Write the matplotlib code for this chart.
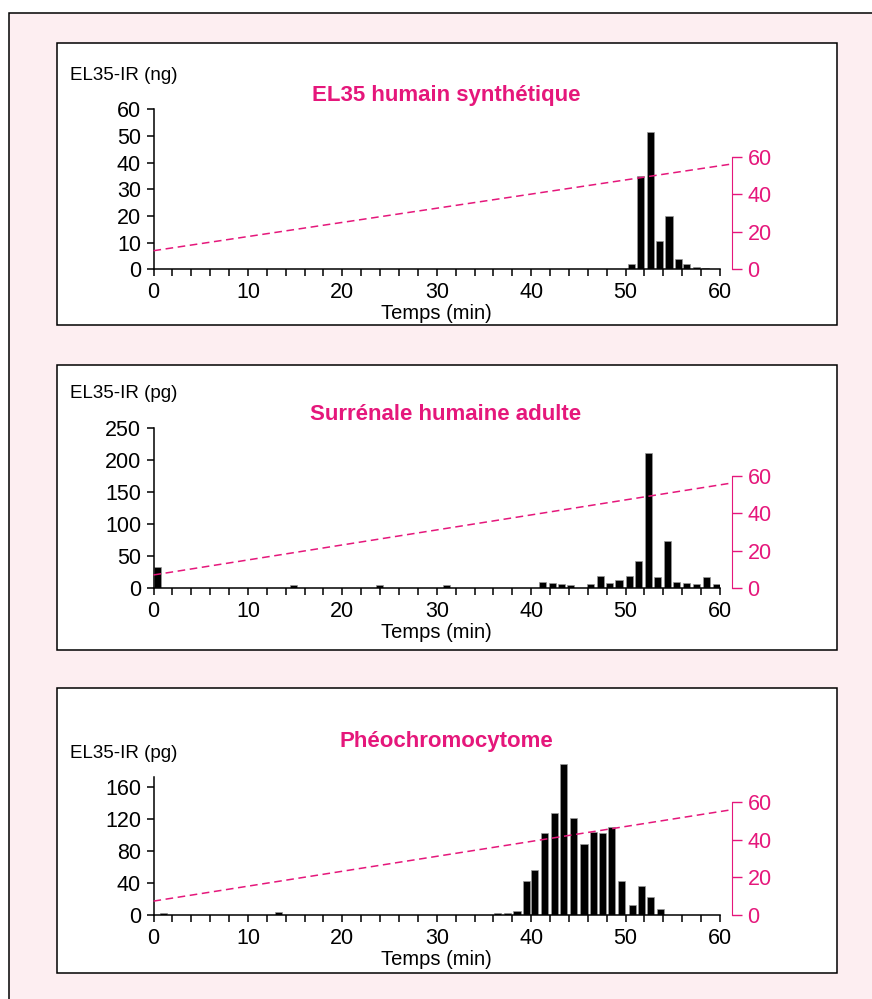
"""
EL35 immunoreactivity HPLC profiles, three panels.
"""

import matplotlib
matplotlib.use("Agg")
import matplotlib.pyplot as plt
from matplotlib.patches import Rectangle

plt.rcParams['font.family'] = ['Liberation Sans', 'DejaVu Sans']

# data
titles = ["EL35 humain synthétique", "Surrénale humaine adulte", "Phéochromocytome"]
ylabels = ["EL35-IR (ng)", "EL35-IR (pg)", "EL35-IR (pg)"]

x1 = [50.6, 51.6, 52.6, 53.6, 54.6, 55.6, 56.5, 57.5, 58.5]
y1 = [2, 35, 51.5, 10.5, 20, 4, 2, 1, 0.5]

x2 = [0.45, 14.8, 23.9, 31.0, 41.2, 42.3, 43.2, 44.2, 46.3, 47.3, 48.3, 49.3,
      50.4, 51.4, 52.4, 53.4, 54.4, 55.4, 56.5, 57.5, 58.6, 59.6]
y2 = [33, 5, 5, 5, 9.4, 7.8, 6.8, 5.2, 6.8, 20, 7.8, 13.5,
      20, 43, 211, 18, 74.5, 9.4, 7.8, 6.8, 18, 6.8]

x3 = [1.05, 13.2, 36.4, 37.5, 38.5, 39.5, 40.4, 41.45, 42.5, 43.45, 44.5, 45.6,
      46.6, 47.6, 48.5, 49.6, 50.7, 51.65, 52.6, 53.7]
y3 = [2.5, 3.5, 2.5, 2.5, 4.6, 43, 56.5, 102, 127, 188, 121, 89,
      104, 102, 110, 43, 13, 36, 22, 8]

yticks = [[0, 10, 20, 30, 40, 50, 60],
          [0, 50, 100, 150, 200, 250],
          [0, 40, 80, 120, 160]]
ytops = [60, 250, 172]          # where the left spine stops
ymaxs = [60, 250, 199.5]
grad_start = [9.9, 7.1, 7.4]    # % solvent at t=0 (right axis)
grad_end = 56.1                 # % solvent at right spine
grad_ticks = [0, 20, 40, 60]

W, H = 872, 999
PINK = '#e5177b'

fig = plt.figure(figsize=(W / 100, H / 100), dpi=100)
fig.patch.set_facecolor('white')


def px_rect(x, y, w, h):
    return [x / W, 1 - (y + h) / H, w / W, h / H]


# outer pink frame
fig.patches.append(Rectangle((9 / W, -0.1), 1.2, 1 - 13 / H + 0.1, transform=fig.transFigure,
                             facecolor='#fdeef1', edgecolor='black', lw=1.1, zorder=-3))

boxes = [(43, 325), (365, 650), (688, 973)]
bottoms = [269.3, 588.3, 915]
axh = 160
data = [(x1, y1), (x2, y2), (x3, y3)]
title_y = [96, 414, 741]
ylab_y = [75, 393, 753]

for i in range(3):
    top, bot = boxes[i]
    fig.patches.append(Rectangle((57.3 / W, 1 - bot / H), (836.7 - 57.3) / W, (bot - top) / H,
                                 transform=fig.transFigure, facecolor='white',
                                 edgecolor='black', lw=1.1, zorder=-2))

    ax = fig.add_axes(px_rect(153.5, bottoms[i] - axh, 566.5, axh))
    ax.set_facecolor('none')
    xs, ys = data[i]
    ax.bar(xs, ys, width=0.75, color='black', edgecolor='#9a9a9a', linewidth=0.5, zorder=2)

    ax.set_xlim(0, 60)
    ax.set_ylim(0, ymaxs[i])
    ax.set_xticks(range(0, 61, 10))
    ax.set_xticks(range(0, 61, 2), minor=True)
    ax.set_yticks(yticks[i])
    ax.tick_params(axis='both', which='both', direction='out', length=5, width=1.1,
                   labelsize=15.5, pad=4)
    ax.tick_params(axis='x', which='minor', length=5)
    ax.tick_params(axis='x', pad=4.5)
    for s in ['top', 'right']:
        ax.spines[s].set_visible(False)
    ax.spines['left'].set_bounds(0, ytops[i])
    ax.spines['left'].set_linewidth(1.1)
    ax.spines['bottom'].set_linewidth(1.1)
    ax.set_xlabel("Temps (min)", fontsize=14.5, labelpad=0.5)

    ax2 = ax.twinx()
    ax2.set_ylim(0, 60 * axh / 112.7)
    ax2.spines['right'].set_position(('axes', 1.0205))
    ax2.spines['right'].set_bounds(0, 60)
    ax2.spines['right'].set_color(PINK)
    for s in ['top', 'left', 'bottom']:
        ax2.spines[s].set_visible(False)
    ax2.set_yticks(grad_ticks)
    ax2.tick_params(axis='y', colors=PINK, length=7.5, width=1, labelsize=15.5, pad=4)
    ax2.plot([0, 61.3], [grad_start[i], grad_end], color=PINK, lw=1.1,
             dashes=(5, 3), clip_on=False)

    fig.text(446 / W, 1 - title_y[i] / H, titles[i], color=PINK, fontsize=16,
             fontweight='bold', ha='center', va='center')
    fig.text(70 / W, 1 - ylab_y[i] / H, ylabels[i], fontsize=13.5, ha='left', va='center')

fig.savefig("out.png", dpi=100)
